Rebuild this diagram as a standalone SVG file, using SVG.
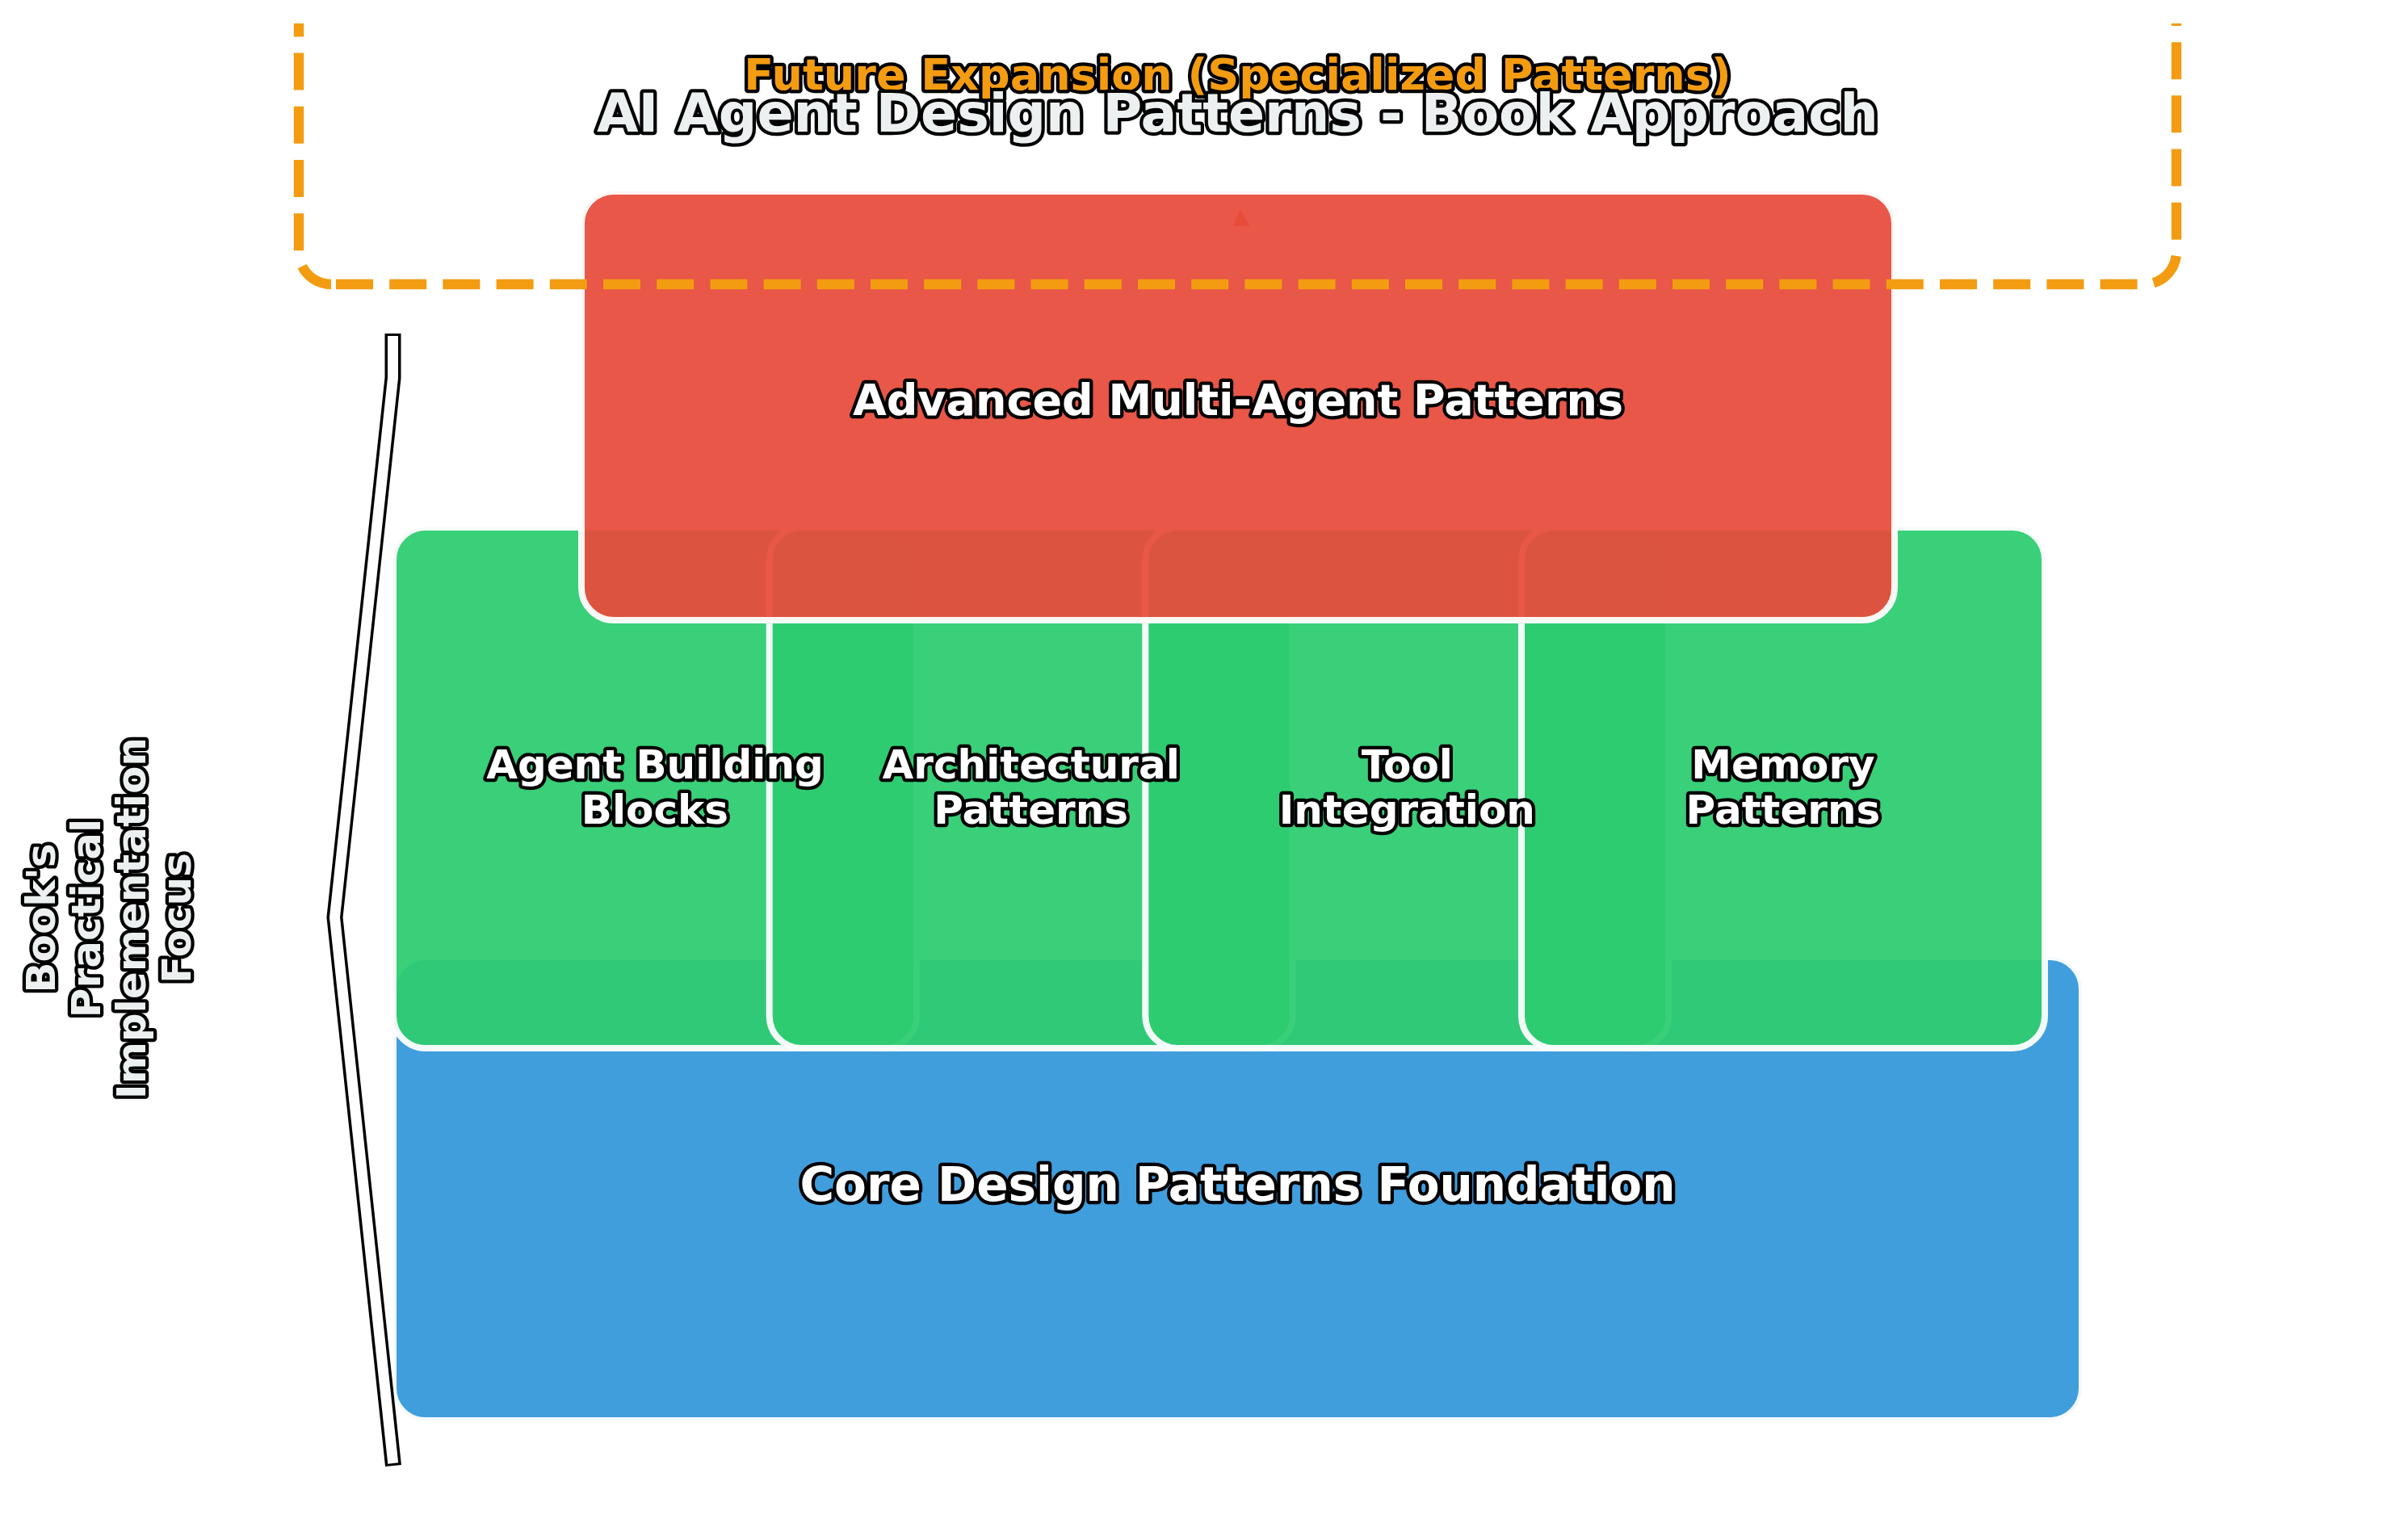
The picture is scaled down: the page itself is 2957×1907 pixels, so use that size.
<svg xmlns="http://www.w3.org/2000/svg" width="2957" height="1907" viewBox="0 0 2957 1907">
<style>
.box{stroke:#ffffff;stroke-width:8;fill-opacity:0.94;stroke-opacity:0.94}
.blue{fill:#3498db}
.green{fill:#2ecc71}
.red{fill:#e74c3c}
.t{font-family:"DejaVu Sans","Liberation Sans",sans-serif;font-weight:bold;stroke:#000000;stroke-width:8.5;stroke-linejoin:round;paint-order:stroke;text-anchor:middle}
.w{fill:#ffffff}
.lg{fill:#ecf0f1}
</style>
<defs>
<clipPath id="axclip"><rect x="0" y="29" width="2957" height="1878"/></clipPath>
</defs>
<rect x="0" y="0" width="2957" height="1907" fill="#ffffff"/>

<g id="node-core"><rect class="box blue" x="487" y="1185" width="2091" height="574" rx="40"/></g>
<g id="node-agent-building-blocks"><rect class="box green" x="487" y="653" width="648" height="645" rx="40"/></g>
<g id="node-architectural-patterns"><rect class="box green" x="952.7" y="653" width="648" height="645" rx="40"/></g>
<g id="node-tool-integration"><rect class="box green" x="1418.3" y="653" width="648" height="645" rx="40"/></g>
<g id="node-memory-patterns"><rect class="box green" x="1884" y="653" width="648" height="645" rx="40"/></g>

<g id="connectors">
<polygon points="1536,259 1526.5,280 1547.5,280" fill="#e74c3c"/>
</g>

<g id="node-advanced"><rect class="box red" x="720" y="237" width="1626" height="531" rx="40"/></g>

<g id="node-future-expansion">
<path clip-path="url(#axclip)" d="M410,352 H2655 A40,40 0 0 0 2695,312 V9.3 A40,40 0 0 0 2655,-30.7 H410 A40,40 0 0 0 370,9.3 V312 A40,40 0 0 0 410,352 Z" fill="none" stroke="#f39c12" stroke-width="12.4" stroke-dasharray="46 20.2" stroke-dashoffset="-6"/>
<text class="t" x="1532.5" y="111" font-size="54" fill="#f39c12">Future Expansion (Specialized Patterns)</text>
</g>

<g id="title"><text class="t lg" x="1532.5" y="163" font-size="66.5">AI Agent Design Patterns - Book Approach</text></g>

<g id="labels">
<text id="label-advanced" class="t w" x="1533" y="514" font-size="54">Advanced Multi-Agent Patterns</text>
<text id="label-core" class="t w" x="1532.5" y="1487" font-size="58">Core Design Patterns Foundation</text>
<text id="label-agent-building-blocks" class="t w" font-size="50"><tspan x="811" y="964">Agent Building</tspan><tspan x="811" y="1020">Blocks</tspan></text>
<text id="label-architectural-patterns" class="t w" font-size="50"><tspan x="1276.7" y="964">Architectural</tspan><tspan x="1276.7" y="1020">Patterns</tspan></text>
<text id="label-tool-integration" class="t w" font-size="50"><tspan x="1742.3" y="964">Tool</tspan><tspan x="1742.3" y="1020">Integration</tspan></text>
<text id="label-memory-patterns" class="t w" font-size="50"><tspan x="2208" y="964">Memory</tspan><tspan x="2208" y="1020">Patterns</tspan></text>
</g>

<g id="focus-bracket">
<polyline points="486.5,413 486.5,468 414.5,1136 487,1815" fill="none" stroke="#000000" stroke-width="20" stroke-linejoin="miter"/>
<polyline points="486.5,416 486.5,468 414.5,1136 486.7,1812" fill="none" stroke="#ffffff" stroke-width="13" stroke-linejoin="miter"/>
<text class="t lg" font-size="50" transform="translate(0,1137) rotate(-90)"><tspan x="0" y="68">Book's</tspan><tspan x="0" y="124">Practical</tspan><tspan x="0" y="180">Implementation</tspan><tspan x="0" y="236">Focus</tspan></text>
</g>
</svg>
